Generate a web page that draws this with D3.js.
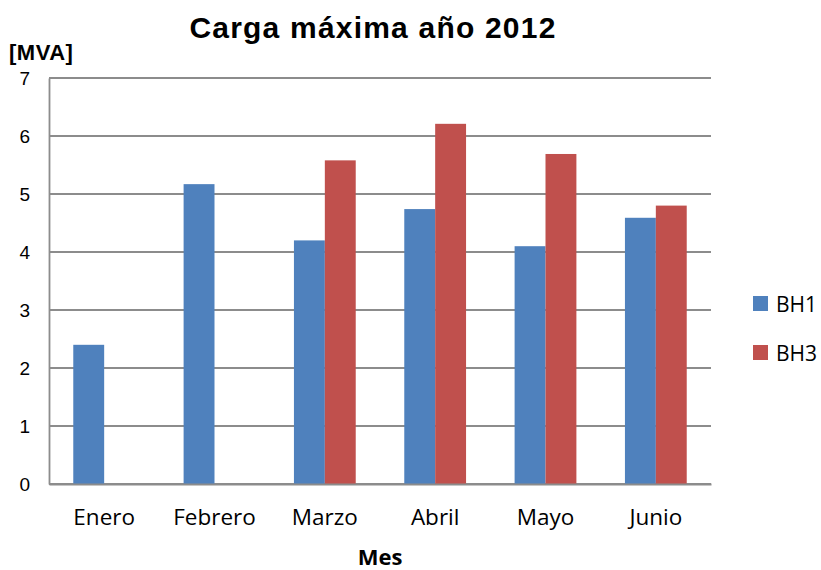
<!DOCTYPE html>
<html>
<head>
<meta charset="utf-8">
<script src="https://cdn.jsdelivr.net/npm/d3@7"></script>
<style>
  body { margin: 0; background: #fff; }
  svg text { fill: #000; }
</style>
</head>
<body>
<div id="chart"></div>
<script>
const months = ["Enero", "Febrero", "Marzo", "Abril", "Mayo", "Junio"];
const seriesNames = ["BH1", "BH3"];
const bh1 = [2.4, 5.17, 4.2, 4.74, 4.1, 4.59];
const bh3 = [null, null, 5.58, 6.21, 5.69, 4.8];
const yTicks = [0, 1, 2, 3, 4, 5, 6, 7];
const colors = ["#4F81BD", "#C0504D"];

const width = 821, height = 570;
const margin = { top: 78, right: 110, bottom: 86, left: 49 };
const innerW = width - margin.left - margin.right;
const innerH = height - margin.top - margin.bottom;

const svg = d3.select("#chart")
  .append("svg")
  .attr("width", width)
  .attr("height", height);

// titulo
svg.append("text")
  .attr("x", 373)
  .attr("y", 38)
  .attr("text-anchor", "middle")
  .style("font-family", "Liberation Sans, Arial, sans-serif")
  .style("font-weight", "bold")
  .style("font-size", "30px")
  .style("letter-spacing", "1.2px")
  .text("Carga máxima año 2012");

svg.append("text")
  .attr("x", 9)
  .attr("y", 60)
  .style("font-family", "Liberation Sans, Arial, sans-serif")
  .style("font-weight", "bold")
  .style("font-size", "22px")
  .style("letter-spacing", "0.5px")
  .text("[MVA]");

const g = svg.append("g")
  .attr("transform", "translate(" + margin.left + "," + margin.top + ")");

const x = d3.scaleBand()
  .domain(months)
  .range([0, innerW]);

const xInner = d3.scaleBand()
  .domain(seriesNames)
  .range([x.bandwidth() * 0.22, x.bandwidth() * 0.78]);

const y = d3.scaleLinear()
  .domain([0, 7])
  .range([innerH, 0]);

// grid
g.selectAll(".grid")
  .data(yTicks)
  .enter()
  .append("line")
  .attr("x1", 0)
  .attr("x2", innerW)
  .attr("y1", (d) => y(d))
  .attr("y2", (d) => y(d))
  .attr("stroke", "#8c8c8c")
  .attr("stroke-width", 1.8);

// eje y
const yAxis = g.append("g")
  .call(d3.axisLeft(y).tickValues(yTicks).tickFormat(d3.format("d")).tickSize(0).tickPadding(19));
yAxis.select(".domain").attr("stroke", "#8c8c8c").attr("stroke-width", 1.8);
yAxis.selectAll("text")
  .style("font-family", "Liberation Sans, Arial, sans-serif")
  .style("font-size", "19px");

// barras
const rows = months.map((m, i) => ({ month: m, values: [bh1[i], bh3[i]] }));

const groups = g.selectAll(".month")
  .data(rows)
  .enter()
  .append("g")
  .attr("transform", (d) => "translate(" + x(d.month) + ",0)");

groups.selectAll("rect")
  .data((d) => d.values.map((v, j) => ({ name: seriesNames[j], value: v, j })).filter((e) => e.value != null))
  .enter()
  .append("rect")
  .attr("x", (d) => xInner(d.name))
  .attr("width", xInner.bandwidth())
  .attr("y", (d) => y(d.value))
  .attr("height", (d) => innerH - y(d.value))
  .attr("fill", (d) => colors[d.j]);

// eje x
const xAxis = g.append("g")
  .attr("transform", "translate(0," + innerH + ")")
  .call(d3.axisBottom(x).tickSize(0).tickPadding(25));
xAxis.select(".domain").attr("stroke", "#8c8c8c").attr("stroke-width", 1.8);
xAxis.selectAll("text")
  .style("font-family", "Open Sans, sans-serif")
  .style("font-size", "22.5px");

svg.append("text")
  .attr("x", 380)
  .attr("y", 565)
  .attr("text-anchor", "middle")
  .style("font-family", "Open Sans, sans-serif")
  .style("font-weight", "bold")
  .style("font-size", "22px")
  .text("Mes");

// leyenda
const legend = svg.append("g")
  .attr("transform", "translate(753,296)");

const items = legend.selectAll("g")
  .data(seriesNames)
  .enter()
  .append("g")
  .attr("transform", (d, i) => "translate(0," + i * 49 + ")");

items.append("rect")
  .attr("width", 15)
  .attr("height", 15)
  .attr("fill", (d, i) => colors[i]);

items.append("text")
  .attr("x", 23)
  .attr("y", 16)
  .style("font-family", "Open Sans, sans-serif")
  .style("font-size", "21px")
  .text((d) => d);
</script>
</body>
</html>
